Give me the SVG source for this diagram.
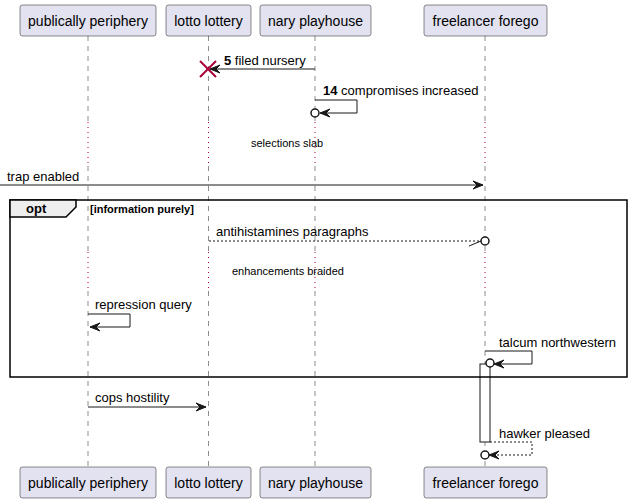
<svg xmlns="http://www.w3.org/2000/svg" width="631" height="504" viewBox="0 0 631 504">
<style>
.box{fill:#E2E2F0;stroke:#181818;stroke-width:0.5}
.pt{font-family:"Liberation Sans",Arial,sans-serif;font-size:14px;fill:#000;text-anchor:middle}
.life{stroke:#181818;stroke-width:0.5;stroke-dasharray:5,5;fill:none}
.delay{stroke:#A80036;stroke-width:1;stroke-dasharray:1,4;fill:none}
.msg{stroke:#181818;stroke-width:1;fill:none}
.dash{stroke:#181818;stroke-width:1;stroke-dasharray:2,2;fill:none}
.head{fill:#181818;stroke:#181818;stroke-width:1}
.t{font-family:"Liberation Sans",Arial,sans-serif;font-size:13px;fill:#000}
.ts{font-family:"Liberation Sans",Arial,sans-serif;font-size:11px;fill:#000}
.circ{fill:#fff;stroke:#181818;stroke-width:1.5}
</style>
<rect width="631" height="504" fill="#fff"/>
<g id="lifelines">
<g id="life-pp">
<line class="life" x1="88" y1="36" x2="88" y2="122"/><line class="delay" x1="88" y1="122" x2="88" y2="166"/>
<line class="life" x1="88" y1="166" x2="88" y2="252"/><line class="delay" x1="88" y1="252" x2="88" y2="291"/>
<line class="life" x1="88" y1="291" x2="88" y2="467"/></g>
<g id="life-ll">
<line class="life" x1="208.5" y1="36" x2="208.5" y2="122"/><line class="delay" x1="208.5" y1="122" x2="208.5" y2="166"/>
<line class="life" x1="208.5" y1="166" x2="208.5" y2="252"/><line class="delay" x1="208.5" y1="252" x2="208.5" y2="291"/>
<line class="life" x1="208.5" y1="291" x2="208.5" y2="467"/></g>
<g id="life-np">
<line class="life" x1="315" y1="36" x2="315" y2="122"/><line class="delay" x1="315" y1="122" x2="315" y2="166"/>
<line class="life" x1="315" y1="166" x2="315" y2="252"/><line class="delay" x1="315" y1="252" x2="315" y2="291"/>
<line class="life" x1="315" y1="291" x2="315" y2="467"/></g>
<g id="life-ff">
<line class="life" x1="485" y1="36" x2="485" y2="122"/><line class="delay" x1="485" y1="122" x2="485" y2="166"/>
<line class="life" x1="485" y1="166" x2="485" y2="252"/><line class="delay" x1="485" y1="252" x2="485" y2="291"/>
<line class="life" x1="485" y1="291" x2="485" y2="467"/></g>
</g>
<g id="activation">
<rect x="480" y="364" width="10" height="78" fill="#fff" stroke="#181818" stroke-width="1"/>
</g>
<g id="frame-opt">
<rect x="10" y="200" width="617" height="177" fill="none" stroke="#000" stroke-width="1.5"/>
<polygon points="10,200 76,200 76,207 66,217 10,217" fill="#EEEEEE" stroke="#000" stroke-width="1.5"/>
<text x="26" y="213" font-family="Liberation Sans,Arial,sans-serif" font-size="13" font-weight="bold">opt</text>
<text x="90" y="213" font-family="Liberation Sans,Arial,sans-serif" font-size="11" font-weight="bold">[information purely]</text>
</g>
<g id="connectors">
<g id="m5">
<line class="msg" x1="315" y1="69" x2="210" y2="69"/>
<polygon class="head" points="220,65 210,69 220,73 216,69"/>
<line x1="200" y1="61" x2="216" y2="77" stroke="#A80036" stroke-width="2"/>
<line x1="200" y1="77" x2="216" y2="61" stroke="#A80036" stroke-width="2"/>
<text class="t" x="224" y="65"><tspan font-weight="bold">5</tspan> filed nursery</text>
</g>
<g id="m14">
<polyline class="msg" points="315,100 357,100 357,113 320,113"/>
<polygon class="head" points="330,109 320,113 330,117 326,113"/>
<circle class="circ" cx="315" cy="113" r="4"/>
<text class="t" x="323" y="95"><tspan font-weight="bold">14</tspan> compromises increased</text>
</g>
<text class="ts" x="251" y="147">selections slab</text>
<g id="mtrap">
<line class="msg" x1="0" y1="185" x2="483" y2="185"/>
<polygon class="head" points="473,181 483,185 473,189 477,185"/>
<text class="t" x="7" y="181">trap enabled</text>
</g>
<g id="manti">
<line class="dash" x1="209" y1="241" x2="481" y2="241"/>
<line class="msg" x1="469" y1="246" x2="481" y2="241"/>
<circle class="circ" cx="485" cy="241" r="4"/>
<text class="t" x="216" y="236">antihistamines paragraphs</text>
</g>
<text class="ts" x="232" y="275">enhancements braided</text>
<g id="mrep">
<polyline class="msg" points="88,314 130,314 130,327 90,327"/>
<polygon class="head" points="100,323 90,327 100,331 96,327"/>
<text class="t" x="95" y="309">repression query</text>
</g>
<g id="mtalc">
<polyline class="msg" points="485,351 532,351 532,364 494,364"/>
<polygon class="head" points="504,360 494,364 504,368 500,364"/>
<circle class="circ" cx="490" cy="363" r="4"/>
<text class="t" x="499" y="347">talcum northwestern</text>
</g>
<g id="mcops">
<line class="msg" x1="88" y1="407" x2="206" y2="407"/>
<polygon class="head" points="196,403 206,407 196,411 200,407"/>
<text class="t" x="95" y="402">cops hostility</text>
</g>
<g id="mhawk">
<polyline class="dash" points="490,442 532,442 532,455 489,455"/>
<polygon class="head" points="499,451 489,455 499,459 495,455"/>
<circle class="circ" cx="485" cy="455" r="4"/>
<text class="t" x="499" y="438">hawker pleased</text>
</g>
</g>
<g id="p-pp"><rect class="box" x="20" y="5" width="136" height="31" rx="2.5"/><text class="pt" x="88" y="26">publically periphery</text>
<rect class="box" x="20" y="467" width="136" height="31" rx="2.5"/><text class="pt" x="88" y="488">publically periphery</text></g>
<g id="p-ll"><rect class="box" x="166" y="5" width="85" height="31" rx="2.5"/><text class="pt" x="208.5" y="26">lotto lottery</text>
<rect class="box" x="166" y="467" width="85" height="31" rx="2.5"/><text class="pt" x="208.5" y="488">lotto lottery</text></g>
<g id="p-np"><rect class="box" x="260" y="5" width="111" height="31" rx="2.5"/><text class="pt" x="315.5" y="26">nary playhouse</text>
<rect class="box" x="260" y="467" width="111" height="31" rx="2.5"/><text class="pt" x="315.5" y="488">nary playhouse</text></g>
<g id="p-ff"><rect class="box" x="424" y="5" width="123" height="31" rx="2.5"/><text class="pt" x="485.5" y="26">freelancer forego</text>
<rect class="box" x="424" y="467" width="123" height="31" rx="2.5"/><text class="pt" x="485.5" y="488">freelancer forego</text></g>
</svg>
